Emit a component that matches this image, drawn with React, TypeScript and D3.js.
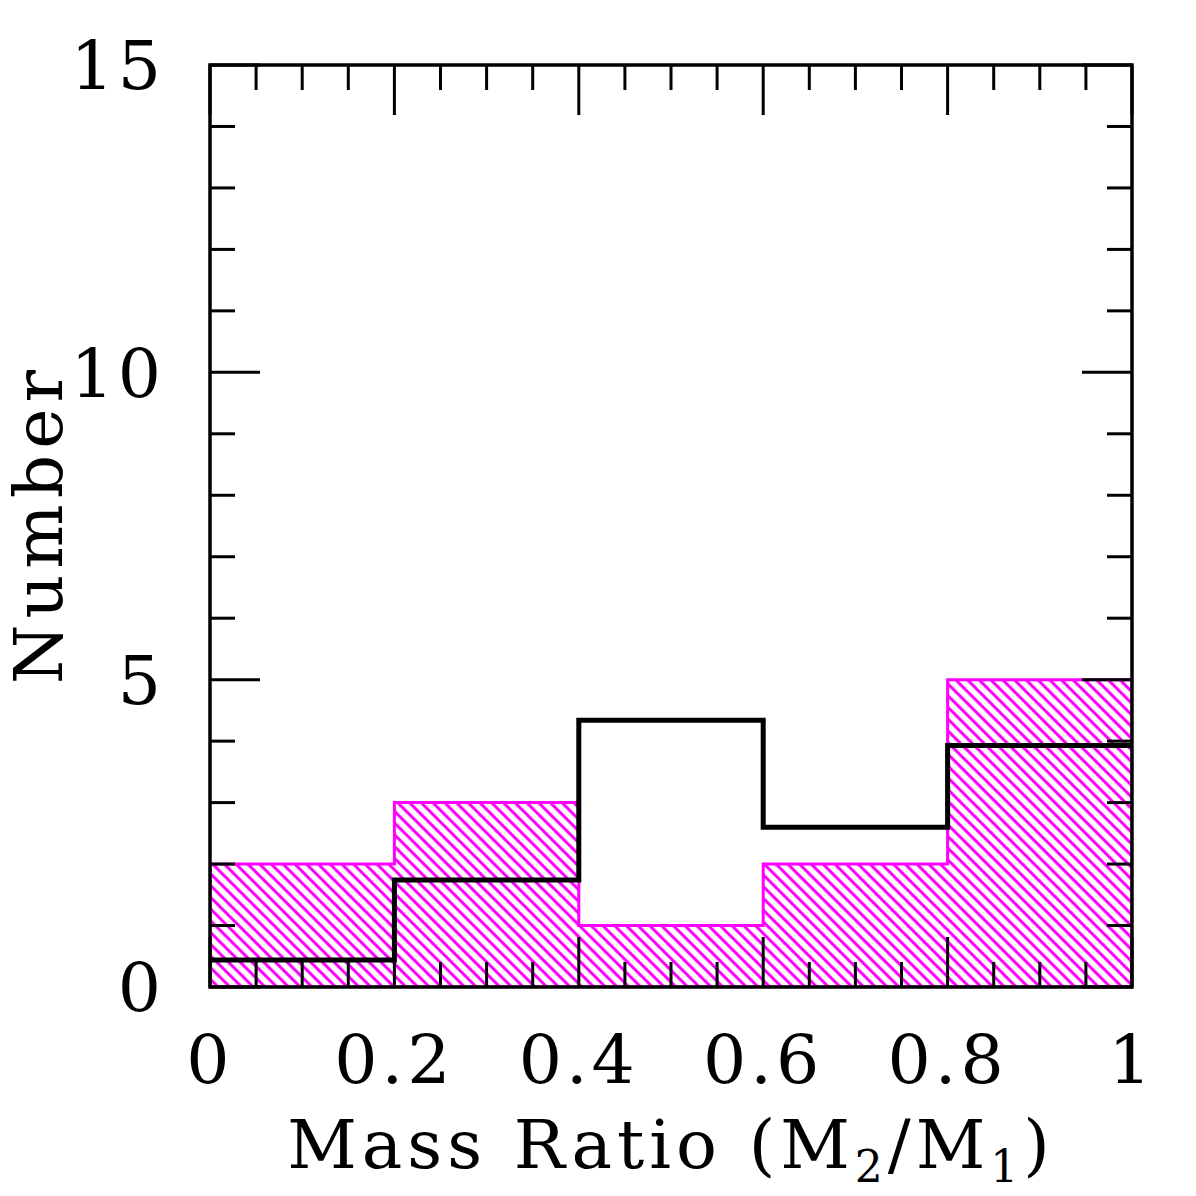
import * as d3 from 'd3'

// histogram bins of the mass ratio q = M2/M1
const binEdges = [0, 0.2, 0.4, 0.6, 0.8, 1.0]
const observedCounts = [2, 3, 1, 2, 5]
const modelCounts = [0.44, 1.74, 4.34, 2.6, 3.93]

const xTickLabels = ['0', '0.2', '0.4', '0.6', '0.8', '1']
const yTickLabels = ['0', '5', '10', '15']

const W = 1196, H = 1196
const left = 210, right = 1132, top = 65, bottom = 987
const FONT = '"DejaVu Serif", serif'
const HATCH = 8.3

function stepPath(counts: number[], x: d3.ScaleLinear<number, number>, y: d3.ScaleLinear<number, number>) {
  const pts: [number, number][] = []
  counts.forEach((c, i) => {
    pts.push([x(binEdges[i]), y(c)])
    pts.push([x(binEdges[i + 1]), y(c)])
  })
  return d3.line()(pts) as string
}

function areaPath(counts: number[], x: d3.ScaleLinear<number, number>, y: d3.ScaleLinear<number, number>) {
  const pts: [number, number][] = [[x(binEdges[0]), y(0)]]
  counts.forEach((c, i) => {
    pts.push([x(binEdges[i]), y(c)])
    pts.push([x(binEdges[i + 1]), y(c)])
  })
  pts.push([x(binEdges[binEdges.length - 1]), y(0)])
  return d3.line()(pts) + 'Z'
}

export default function App() {
  const x = d3.scaleLinear().domain([0, 1]).range([left, right])
  const y = d3.scaleLinear().domain([0, 15]).range([bottom, top])

  const xMinor = d3.range(0, 1.0001, 0.05)
  const xMajor = d3.range(0, 1.0001, 0.2)
  const yMinor = d3.range(0, 15.001, 1)
  const yMajor = d3.range(0, 15.001, 5)
  const majLen = 50, minLen = 25

  return (
    <svg width={W} height={H} style={{ position: 'absolute', left: 0, top: 0, background: '#fff' }}>
      <defs>
        <pattern id="hatch" patternUnits="userSpaceOnUse" width={HATCH} height={HATCH}
          patternTransform="rotate(-45)">
          <rect width={HATCH} height={HATCH} fill="#fff" />
          <line x1={HATCH / 2} y1={0} x2={HATCH / 2} y2={HATCH} stroke="#ff00ff" strokeWidth={3} />
        </pattern>
        <clipPath id="frame">
          <rect x={left} y={top} width={right - left} height={bottom - top} />
        </clipPath>
      </defs>

      <g clipPath="url(#frame)">
        <path d={areaPath(observedCounts, x, y)} fill="url(#hatch)" stroke="#ff00ff" strokeWidth={3} />
      </g>
      <path d={stepPath(modelCounts, x, y)} fill="none" stroke="#000" strokeWidth={5} strokeLinejoin="miter" />

      {/* ticks on all four sides, pointing inward */}
      <g stroke="#000" strokeWidth={3}>
        {xMinor.map((v, i) => {
          const len = xMajor.some(m => Math.abs(m - v) < 1e-6) ? majLen : minLen
          return (
            <g key={'x' + i}>
              <line x1={x(v)} x2={x(v)} y1={bottom} y2={bottom - len} />
              <line x1={x(v)} x2={x(v)} y1={top} y2={top + len} />
            </g>
          )
        })}
        {yMinor.map((v, i) => {
          const len = yMajor.some(m => Math.abs(m - v) < 1e-6) ? majLen : minLen
          return (
            <g key={'y' + i}>
              <line x1={left} x2={left + len} y1={y(v)} y2={y(v)} />
              <line x1={right} x2={right - len} y1={y(v)} y2={y(v)} />
            </g>
          )
        })}
      </g>
      <rect x={left} y={top} width={right - left} height={bottom - top} fill="none" stroke="#000" strokeWidth={3.5} />

      <g fontFamily={FONT} fontSize={68} fill="#000">
        {xTickLabels.map((t, i) => (
          <text key={t} x={x(xMajor[i])} y={1083} textAnchor="middle" letterSpacing={4}>{t}</text>
        ))}
        {yTickLabels.map((t, i) => (
          <text key={t} x={165} y={y(yMajor[i])} dy="0.36em" textAnchor="end" letterSpacing={4}>{t}</text>
        ))}
        <text x={(left + right) / 2} y={1168} textAnchor="middle" letterSpacing={5}>
          Mass Ratio (M<tspan fontSize={44} dy={14}>2</tspan><tspan dy={-14}>/M</tspan><tspan fontSize={44} dy={14}>1</tspan><tspan dy={-14}>)</tspan>
        </text>
        <text transform={`translate(62,${(top + bottom) / 2 - 2}) rotate(-90)`} textAnchor="middle" letterSpacing={6}>Number</text>
      </g>
    </svg>
  )
}
